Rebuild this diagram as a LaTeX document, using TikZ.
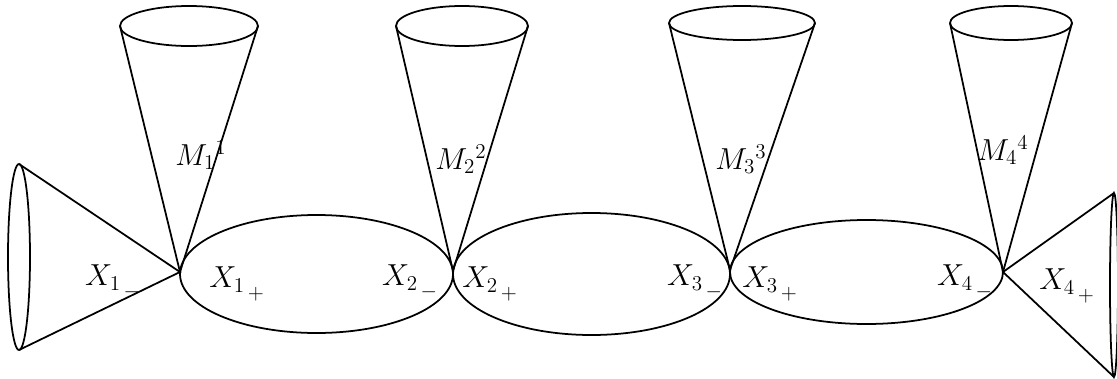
\documentclass[tikz,border=0pt]{standalone}
\usepackage{tikz}
\newcommand{\lowsub}[1]{\,\lower0.55ex\hbox{$\scriptstyle #1$}}
\begin{document}
\begin{tikzpicture}[x=0.02cm, y=-0.02cm, line width=1pt,
  lbl/.style={font=\fontsize{17}{20}\selectfont, inner sep=0pt}]
\useasboundingbox (0,0) rectangle (1117,379);
% apexes where the pieces meet
\coordinate (a1) at (180,272);
\coordinate (a2) at (453,271);
\coordinate (a3) at (730,270);
\coordinate (a4) at (1003,272);
% horizontal ellipses
\draw (316.5,274) ellipse [x radius=136.5, y radius=59];
\draw (591.5,274) ellipse [x radius=138.5, y radius=61];
\draw (866.5,272) ellipse [x radius=136.5, y radius=52];
% upper cones
\foreach \n/\cx/\cy/\rx/\ry in {1/189/26/69/20, 2/462/26/66/20, 3/742/23/73/17, 4/1011/23/61/17}{
  \draw (\cx,\cy) ellipse [x radius=\rx, y radius=\ry];
  \draw (\cx-\rx,\cy) -- (a\n) -- (\cx+\rx,\cy);
}
% end cones
\draw (19,257) ellipse [x radius=11, y radius=93];
\draw (19,164) -- (a1) -- (19,350);
\begin{scope}
  \clip (0,0) rectangle (1117,379);
  \draw (1114,285) ellipse [x radius=4, y radius=92];
\end{scope}
\draw (1114,193) -- (a4) -- (1114,377);
% labels
\node[lbl] (m1) at (201,155) {$M_1{}^1$};
\node[lbl] (m2) at (461,159) {$M_2{}^2$};
\node[lbl] (m3) at (741,159) {$M_3{}^3$};
\node[lbl] (m4) at (1003,150) {$M_4{}^4$};
\node[lbl] (x1m) at (113,282) {$X_{1\lowsub{-}}$};
\node[lbl] (x1p) at (237,284) {$X_{1\lowsub{+}}$};
\node[lbl] (x2m) at (410,282) {$X_{2\lowsub{-}}$};
\node[lbl] (x2p) at (490,284) {$X_{2\lowsub{+}}$};
\node[lbl] (x3m) at (695,282) {$X_{3\lowsub{-}}$};
\node[lbl] (x3p) at (770,284) {$X_{3\lowsub{+}}$};
\node[lbl] (x4m) at (965,282) {$X_{4\lowsub{-}}$};
\node[lbl] (x4p) at (1067,286) {$X_{4\lowsub{+}}$};
\end{tikzpicture}
\end{document}
